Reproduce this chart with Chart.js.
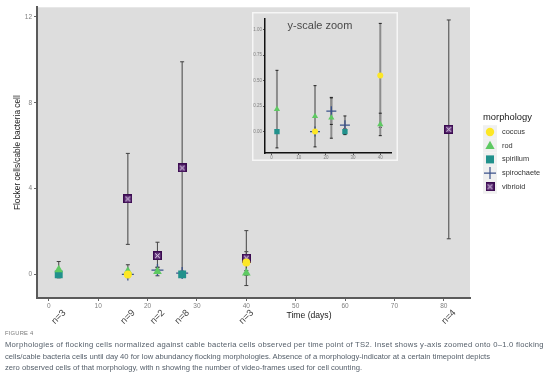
<!DOCTYPE html>
<html>
<head>
<meta charset="utf-8">
<script src="https://cdn.jsdelivr.net/npm/chart.js@4.4.0/dist/chart.umd.min.js"></script>
<style>
  body { margin: 0; background: #fff; }
  #wrap { position: relative; width: 554px; height: 376px; overflow: hidden; }
  #mainBox { position: absolute; left: 0; top: 0; width: 554px; height: 330px; }
  #insetBox { position: absolute; left: 252px; top: 12px; width: 146px; height: 149px; }
  #caption { position: absolute; left: 5px; top: 327.5px; font-family: "Liberation Sans", Arial, sans-serif; color: #56606b; font-size: 7.65px; line-height: 11.6px; white-space: nowrap; }
  #caption .fig { font-size: 5.8px; color: #7a7a7a; letter-spacing: 0.2px; }
  #caption .wide { letter-spacing: 0.25px; }
</style>
</head>
<body>
<div id="wrap">
  <div id="mainBox"><canvas id="mainChart"></canvas></div>
  <div id="insetBox"><canvas id="insetChart"></canvas></div>
  <div id="caption">
    <div class="fig">FIGURE 4</div>
    <div class="wide">Morphologies of flocking cells normalized against cable bacteria cells observed per time point of TS2. Inset shows y-axis zoomed onto 0–1.0 flocking</div>
    <div>cells/cable bacteria cells until day 40 for low abundancy flocking morphologies. Absence of a morphology-indicator at a certain timepoint depicts</div>
    <div>zero observed cells of that morphology, with n showing the number of video-frames used for cell counting.</div>
  </div>
</div>
<script>
// time points and number of video frames per time point
const days = [2, 16, 22, 27, 40, 81];
const frameLabels = ["n=3", "n=9", "n=2", "n=8", "n=3", "n=4"];

// mean and sd per morphology (null = not observed)
const coccusMean = [null, 0, null, null, 0.55, null];
const coccusSd = [null, 0, null, null, 0.51, null];
const rodMean = [0.22, 0.15, 0.135, null, 0.07, null];
const rodSd = [0.38, 0.30, 0.20, null, 0.11, null];
const spirillumMean = [0, null, null, 0, null, null];
const spirillumSd = [0, null, null, 0.03, null, null];
const spirochaeteMean = [null, 0, 0.2, 0.063, null, null];
const spirochaeteSd = [null, 0, 0.13, 0.09, null, null];
const vibrioidMean = [null, 3.52, 0.87, 4.96, 0.76, 6.76];
const vibrioidSd = [null, 2.12, 0.63, 4.95, 1.28, 5.1];

const morphologies = ["coccus", "rod", "spirillum", "spirochaete", "vibrioid"];

// axis ticks
const xTicks = [0, 10, 20, 30, 40, 50, 60, 70, 80];
const yTicks = [0, 4, 8, 12];
const insetXTicks = [0, 10, 20, 30, 40];
const insetYTicks = [0, 0.25, 0.5, 0.75, 1];

Chart.defaults.font.family = '"Liberation Sans", Arial, sans-serif';

const colors = {
    coccus: "#fde725",
    rod: "#5ec962",
    spirillum: "#21918c",
    spirochaete: "#3b528b",
    vibrioid: "#440154"
};

// square with an x inside, used for vibrioid
function makeBoxX(size) {
    const c = document.createElement("canvas");
    c.width = size;
    c.height = size;
    const g = c.getContext("2d");
    g.fillStyle = "#6d3f85";
    g.fillRect(0, 0, size, size);
    g.strokeStyle = "#3a0a4f";
    g.lineWidth = 1.4;
    g.strokeRect(0.7, 0.7, size - 1.4, size - 1.4);
    g.strokeStyle = "#eadff0";
    g.lineWidth = 1;
    g.beginPath();
    g.moveTo(2.2, 2.2); g.lineTo(size - 2.2, size - 2.2);
    g.moveTo(size - 2.2, 2.2); g.lineTo(2.2, size - 2.2);
    g.stroke();
    return c;
}
const boxX = makeBoxX(9);

function buildSet(label, means, sds, style, radius, maxDay) {
    const pts = [];
    days.forEach((d, i) => {
        if (means[i] !== null && d <= maxDay) {
            pts.push({ x: d, y: means[i], sd: sds[i] });
        }
    });
    const col = colors[label];
    return {
        label: label,
        data: pts,
        showLine: false,
        pointStyle: style,
        pointRadius: radius,
        pointHoverRadius: radius,
        pointBackgroundColor: col,
        pointBorderColor: col,
        pointBorderWidth: style === "cross" ? 1.3 : 0,
        borderColor: col,
        backgroundColor: col
    };
}

// error bars from the sd stored with each point
const errorBars = {
    id: "errorBars",
    beforeDatasetsDraw(chart, args, opts) {
        const ctx = chart.ctx;
        const ys = chart.scales.y;
        ctx.save();
        chart.data.datasets.forEach((ds, di) => {
            const meta = chart.getDatasetMeta(di);
            ds.data.forEach((p, i) => {
                if (!p.sd) return;
                const px = meta.data[i].x;
                const top = ys.getPixelForValue(p.y + p.sd);
                const bot = ys.getPixelForValue(p.y - p.sd);
                ctx.strokeStyle = opts.color;
                ctx.lineWidth = opts.width;
                ctx.beginPath();
                ctx.moveTo(px, top);
                ctx.lineTo(px, bot);
                ctx.stroke();
                ctx.strokeStyle = opts.capColor;
                ctx.lineWidth = 1;
                ctx.beginPath();
                ctx.moveTo(px - opts.cap, top); ctx.lineTo(px + opts.cap, top);
                ctx.moveTo(px - opts.cap, bot); ctx.lineTo(px + opts.cap, bot);
                ctx.stroke();
            });
        });
        ctx.restore();
    }
};

function drawSymbol(ctx, name, x, y) {
    ctx.save();
    ctx.fillStyle = colors[name];
    ctx.strokeStyle = colors[name];
    ctx.beginPath();
    if (name === "coccus") {
        ctx.arc(x, y, 4.2, 0, Math.PI * 2);
        ctx.fill();
    } else if (name === "rod") {
        ctx.moveTo(x, y - 5);
        ctx.lineTo(x + 4.6, y + 3.2);
        ctx.lineTo(x - 4.6, y + 3.2);
        ctx.closePath();
        ctx.fill();
    } else if (name === "spirillum") {
        ctx.fillRect(x - 4, y - 4, 8, 8);
    } else if (name === "spirochaete") {
        ctx.lineWidth = 1.2;
        ctx.moveTo(x - 6, y); ctx.lineTo(x + 6, y);
        ctx.moveTo(x, y - 6); ctx.lineTo(x, y + 6);
        ctx.stroke();
    } else {
        ctx.drawImage(boxX, x - 4.5, y - 4.5);
    }
    ctx.restore();
}

// panel background, titles, n labels and legend of the main plot
const mainDecor = {
    id: "mainDecor",
    beforeDraw(chart) {
        const a = chart.chartArea;
        const ctx = chart.ctx;
        ctx.save();
        ctx.fillStyle = "#dddddd";
        ctx.fillRect(a.left, a.top, a.right - a.left, a.bottom - a.top);
        ctx.restore();
    },
    afterDraw(chart) {
        const ctx = chart.ctx;
        const a = chart.chartArea;
        const xs = chart.scales.x;
        ctx.save();
        ctx.fillStyle = "#1a1a1a";
        ctx.font = '8.3px "Liberation Sans", Arial, sans-serif';
        ctx.textAlign = "center";
        ctx.textBaseline = "middle";
        ctx.save();
        ctx.translate(18, (a.top + a.bottom) / 2);
        ctx.rotate(-Math.PI / 2);
        ctx.fillText("Flocker cells/cable bacteria cell", 0, 0);
        ctx.restore();
        ctx.font = '8.6px "Liberation Sans", Arial, sans-serif';
        ctx.fillText("Time (days)", 309, 316);

        // n labels under each time point
        ctx.fillStyle = "#444";
        ctx.font = '9.5px "Liberation Sans", Arial, sans-serif';
        days.forEach((d, i) => {
            ctx.save();
            ctx.translate(xs.getPixelForValue(d), 317);
            ctx.rotate(-Math.PI / 4);
            ctx.fillText(frameLabels[i], 0, 0);
            ctx.restore();
        });

        // legend
        ctx.textAlign = "left";
        ctx.fillStyle = "#1a1a1a";
        ctx.font = '9.4px "Liberation Sans", Arial, sans-serif';
        ctx.fillText("morphology", 483, 117);
        ctx.font = '7.4px "Liberation Sans", Arial, sans-serif';
        morphologies.forEach((m, i) => {
            const y = 132 + i * 13.7;
            ctx.fillStyle = "#f0f0f0";
            ctx.fillRect(483, y - 6.8, 14, 13.7);
            drawSymbol(ctx, m, 490, y);
            ctx.fillStyle = "#333";
            ctx.fillText(m, 502, y);
        });
        ctx.restore();
    }
};

const mainChart = new Chart(document.getElementById("mainChart"), {
    type: "scatter",
    data: {
        datasets: [
            buildSet("coccus", coccusMean, coccusSd, "circle", 4, 100),
            buildSet("rod", rodMean, rodSd, "triangle", 5, 100),
            buildSet("spirillum", spirillumMean, spirillumSd, "rect", 5.6, 100),
            buildSet("spirochaete", spirochaeteMean, spirochaeteSd, "cross", 6, 100),
            buildSet("vibrioid", vibrioidMean, vibrioidSd, boxX, 5, 100)
        ]
    },
    options: {
        responsive: true,
        maintainAspectRatio: false,
        animation: false,
        layout: { padding: { top: 7, right: 84, left: 0, bottom: 0 } },
        plugins: {
            legend: { display: false },
            tooltip: { enabled: false },
            errorBars: { color: "#505050", width: 1.1, cap: 2, capColor: "#404040" }
        },
        scales: {
            x: {
                type: "linear",
                min: -2.4,
                max: 85.3,
                afterBuildTicks: (axis) => { axis.ticks = xTicks.map((v) => ({ value: v })); },
                afterFit: (axis) => { axis.height = 32; },
                border: { display: true, color: "#5a5a5a", width: 2 },
                grid: { display: true, drawOnChartArea: false, drawTicks: true, tickLength: 3, tickColor: "#666" },
                ticks: { color: "#7f7f7f", font: { size: 6.5 }, padding: 1, maxRotation: 0, autoSkip: false }
            },
            y: {
                type: "linear",
                min: -1.1,
                max: 12.45,
                afterBuildTicks: (axis) => { axis.ticks = yTicks.map((v) => ({ value: v })); },
                afterFit: (axis) => { axis.width = 37; },
                border: { display: true, color: "#5a5a5a", width: 2 },
                grid: { display: true, drawOnChartArea: false, drawTicks: true, tickLength: 3, tickColor: "#666" },
                ticks: { color: "#7f7f7f", font: { size: 6.5 }, padding: 2, autoSkip: false }
            }
        }
    },
    plugins: [errorBars, mainDecor]
});

// inset: background, frame and title
const insetDecor = {
    id: "insetDecor",
    beforeDraw(chart) {
        const ctx = chart.ctx;
        ctx.save();
        ctx.fillStyle = "#dddddd";
        ctx.fillRect(0, 0, chart.width, chart.height);
        ctx.strokeStyle = "#f6f6f6";
        ctx.lineWidth = 1.5;
        ctx.strokeRect(0.75, 0.75, chart.width - 1.5, chart.height - 1.5);
        ctx.restore();
    },
    afterDraw(chart) {
        const ctx = chart.ctx;
        ctx.save();
        ctx.fillStyle = "#4a4a4a";
        ctx.font = '11px "Liberation Sans", Arial, sans-serif';
        ctx.textAlign = "center";
        ctx.textBaseline = "middle";
        ctx.fillText("y-scale zoom", 68, 14);
        ctx.restore();
    }
};

const insetChart = new Chart(document.getElementById("insetChart"), {
    type: "scatter",
    data: {
        datasets: [
            buildSet("coccus", coccusMean, coccusSd, "circle", 3, 40),
            buildSet("rod", rodMean, rodSd, "triangle", 3.6, 40),
            buildSet("spirillum", spirillumMean, spirillumSd, "rect", 3.8, 40),
            buildSet("spirochaete", spirochaeteMean, spirochaeteSd, "cross", 5, 40)
        ]
    },
    options: {
        responsive: true,
        maintainAspectRatio: false,
        animation: false,
        layout: { padding: { top: 1, right: 2, left: 0, bottom: 0 } },
        plugins: {
            legend: { display: false },
            tooltip: { enabled: false },
            errorBars: { color: "#8c8c8c", width: 2, cap: 1.5, capColor: "#222" }
        },
        scales: {
            x: {
                type: "linear",
                min: -2.4,
                max: 44.2,
                afterBuildTicks: (axis) => { axis.ticks = insetXTicks.map((v) => ({ value: v })); },
                afterFit: (axis) => { axis.height = 8; },
                border: { display: true, color: "#111", width: 1.5 },
                grid: { display: true, drawOnChartArea: false, drawTicks: true, tickLength: 2, tickColor: "#555" },
                ticks: { color: "#808080", font: { size: 4.5 }, padding: 0, maxRotation: 0, autoSkip: false }
            },
            y: {
                type: "linear",
                min: -0.21,
                max: 1.11,
                afterBuildTicks: (axis) => { axis.ticks = insetYTicks.map((v) => ({ value: v })); },
                afterFit: (axis) => { axis.width = 13; },
                border: { display: true, color: "#111", width: 1.5 },
                grid: { display: true, drawOnChartArea: false, drawTicks: true, tickLength: 2, tickColor: "#555" },
                ticks: { color: "#808080", font: { size: 4.5 }, padding: 1, autoSkip: false,
                    callback: (v) => v.toFixed(2) }
            }
        }
    },
    plugins: [errorBars, insetDecor]
});
</script>
</body>
</html>
